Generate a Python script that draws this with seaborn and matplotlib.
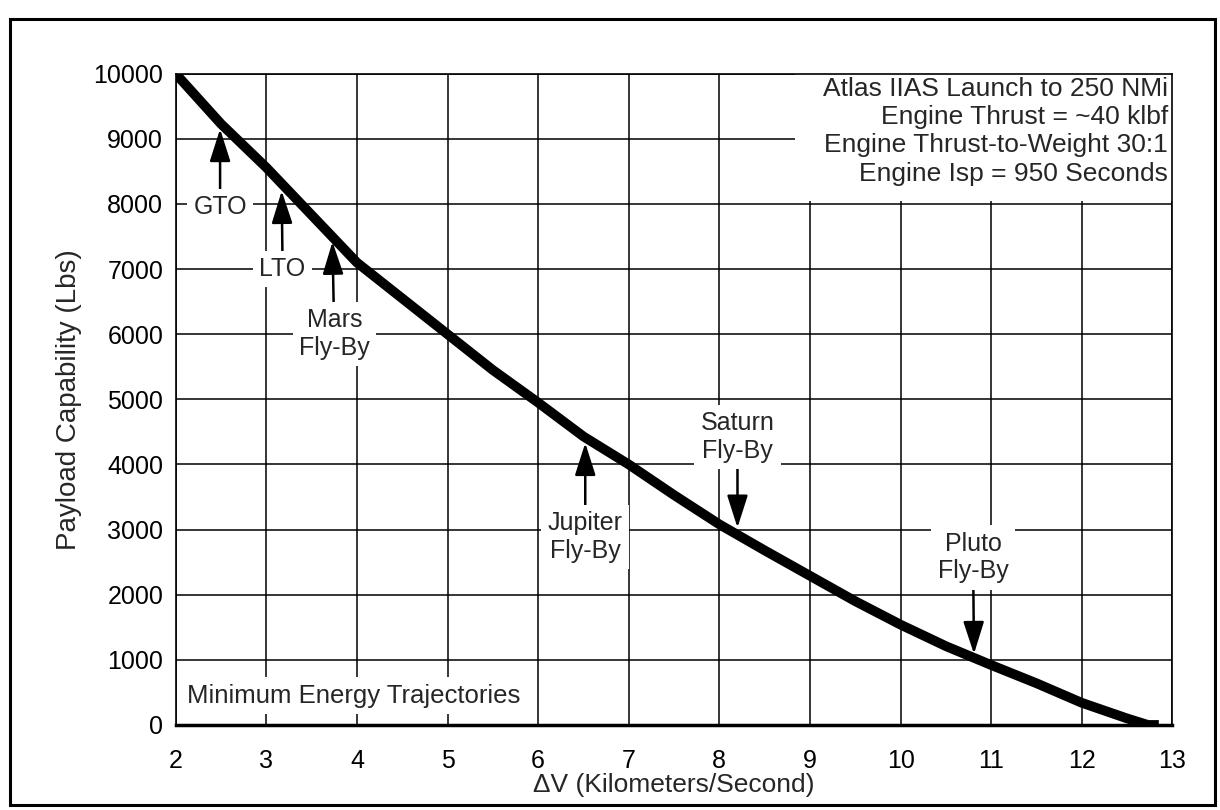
import pandas as pd
import matplotlib
matplotlib.use('Agg')
import matplotlib.pyplot as plt
import seaborn as sns
from matplotlib.patches import Rectangle
from matplotlib.ticker import MultipleLocator

# payload curve
delta_v = [2.0, 2.5, 3.0, 3.5, 4.0, 4.5, 5.0, 5.5, 6.0, 6.5, 7.0, 7.5, 8.0,
           8.5, 9.0, 9.5, 10.0, 10.5, 11.0, 11.5, 12.0, 12.5, 12.73, 12.85]
payload = [10000, 9230, 8560, 7830, 7100, 6550, 6000, 5450, 4950, 4430, 4000,
           3530, 3080, 2680, 2290, 1900, 1540, 1210, 920, 640, 340, 100, 0, 0]

# mission markers (arrow tip on the curve)
missions = ['GTO', 'LTO', 'Mars\nFly-By', 'Jupiter\nFly-By', 'Saturn\nFly-By', 'Pluto\nFly-By']
mission_dv = [2.49, 3.17, 3.73, 6.52, 8.2, 10.81]
mission_payload = [9150, 8200, 7420, 4330, 3030, 1090]

info_lines = ['Atlas IIAS Launch to 250 NMi', 'Engine Thrust = ~40 klbf',
              'Engine Thrust-to-Weight 30:1', 'Engine Isp = 950 Seconds']

sns.set_style('white')
plt.rcParams['font.family'] = ['Liberation Sans', 'DejaVu Sans']

fig, ax = plt.subplots(figsize=(12.2, 8.1), dpi=100)
fig.subplots_adjust(left=0.144, right=0.961, top=0.909, bottom=0.105)

df = pd.DataFrame({'dv': delta_v, 'payload': payload})
sns.lineplot(data=df, x='dv', y='payload', ax=ax, color='black', lw=7,
             solid_capstyle='butt', zorder=4)

ax.set_xlim(2, 13)
ax.set_ylim(0, 10000)
ax.set_xticks(range(2, 14))
ax.set_yticks(range(0, 10001, 1000))
ax.xaxis.set_minor_locator(MultipleLocator(0.2))
ax.yaxis.set_minor_locator(MultipleLocator(500))
ax.grid(True, which='major', color='black', lw=1.1)
ax.set_axisbelow(True)
ax.tick_params(which='major', direction='out', length=6, width=1.2,
               colors='black', labelsize=18, pad=3)
ax.tick_params(axis='x', which='major', pad=11)
ax.tick_params(which='minor', direction='out', length=3, width=1.0, colors='black')
for side in ['left', 'top', 'right']:
    ax.spines[side].set_color('black')
    ax.spines[side].set_linewidth(1.2)
ax.spines['bottom'].set_color('black')
ax.spines['bottom'].set_linewidth(2.5)

ax.set_xlabel('ΔV (Kilometers/Second)', fontsize=19, labelpad=0)
ax.set_ylabel('Payload Capability (Lbs)', fontsize=20, labelpad=8)

# white panel behind the engine notes
ax.add_patch(Rectangle((8.84, 8040), 13 - 8.84, 1960, facecolor='white',
                       edgecolor='none', zorder=2))
ax.text(12.95, 9950, '\n'.join(info_lines), ha='right', va='top',
        fontsize=19, linespacing=1.22, zorder=3)

ax.text(2.12, 450, 'Minimum Energy Trajectories', ha='left', va='center', fontsize=18.5,
        bbox=dict(boxstyle='square,pad=0.25', fc='white', ec='none'), zorder=3)

# label centre for each mission (layout only)
label_pos = [(2.49, 7950), (3.18, 7000), (3.75, 6000), (6.52, 2890), (8.2, 4420), (10.8, 2570)]
for name, x, y, (tx, ty) in zip(missions, mission_dv, mission_payload, label_pos):
    ax.annotate(name, xy=(x, y), xytext=(tx, ty), ha='center', va='center',
                fontsize=18, linespacing=1.2, zorder=5,
                bbox=dict(boxstyle='square,pad=0.25', fc='white', ec='none'),
                arrowprops=dict(arrowstyle='-|>,head_length=1.0,head_width=0.32',
                                color='black', lw=1.8, shrinkA=0, shrinkB=0,
                                mutation_scale=20))

# scanned page frame
fig.patches.append(Rectangle((0.008, 0.006), 0.988, 0.971, transform=fig.transFigure,
                             fill=False, edgecolor='black', lw=2.2))

fig.savefig('out.png', dpi=100)
